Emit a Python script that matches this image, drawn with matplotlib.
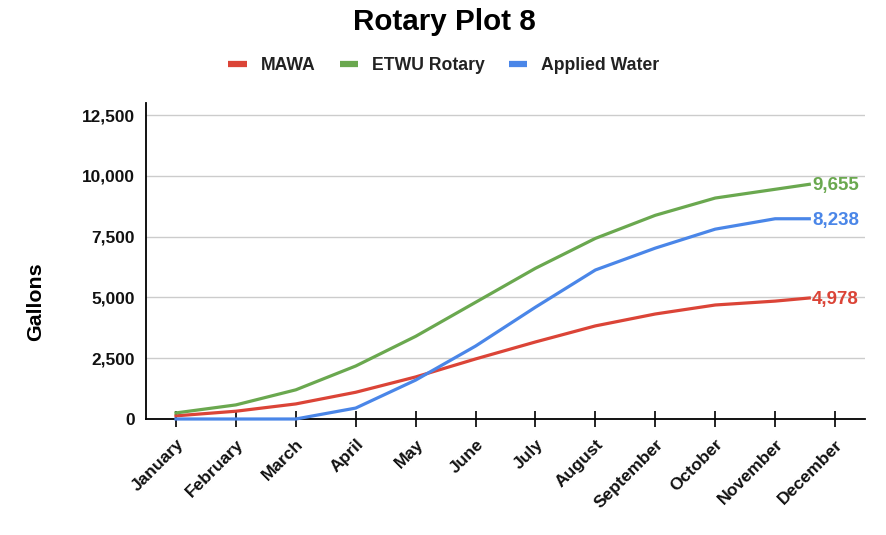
import matplotlib
matplotlib.use("Agg")
import matplotlib.pyplot as plt
from matplotlib.lines import Line2D

plt.rcParams['font.family'] = ['Liberation Sans', 'DejaVu Sans']
plt.rcParams['font.weight'] = 'bold'

months = ["January", "February", "March", "April", "May", "June", "July",
          "August", "September", "October", "November", "December"]
# positions of the plotted points along the month axis (last point sits before the December tick)
point_pos = [0, 1, 2, 3, 4, 5, 6, 7, 8, 9, 10, 10.57]

mawa = [130, 320, 620, 1100, 1730, 2470, 3170, 3830, 4320, 4690, 4850, 4978]
etwu = [250, 580, 1200, 2180, 3400, 4800, 6200, 7430, 8380, 9090, 9450, 9655]
applied = [0, 0, 0, 450, 1600, 3000, 4600, 6130, 7030, 7810, 8238, 8238]

series_names = ["MAWA", "ETWU Rotary", "Applied Water"]
colors = ["#DB4437", "#6AA84F", "#4A86E8"]
yticks = [0, 2500, 5000, 7500, 10000, 12500]

W, H = 886, 535
fig = plt.figure(figsize=(W / 100, H / 100), dpi=100)
ax = fig.add_axes([146 / W, 1 - 419 / H, (865 - 146) / W, (419 - 103) / H])

series = [mawa, etwu, applied]
for vals, col in zip(series, colors):
    ax.plot(point_pos, vals, color=col, lw=2.3, solid_joinstyle='round', zorder=3, clip_on=False)
    ax.annotate(f"{vals[-1]:,}", (point_pos[-1], vals[-1]), xytext=(2, -1),
                textcoords='offset points', ha='left', va='center',
                color=col, fontsize=13.5, fontweight='bold', zorder=4)

ax.set_xlim(-0.5, 11.5)
ax.set_ylim(0, 13000)
ax.set_yticks(yticks)
ax.set_yticklabels([f"{v:,}" for v in yticks], fontsize=12.4, fontweight='bold', color='#111111')
ax.set_xticks(range(len(months)))
ax.set_xticklabels(months, rotation=45, ha='right', rotation_mode='anchor',
                   fontsize=12.5, fontweight='bold', color='#111111')
ax.tick_params(axis='y', length=0, pad=8)
ax.tick_params(axis='x', direction='inout', length=11.5, width=1.2, pad=7, color='black')
ax.grid(axis='y', color='#cccccc', lw=1)
ax.set_axisbelow(True)
for s in ['top', 'right']:
    ax.spines[s].set_visible(False)
ax.spines['left'].set_linewidth(1.3)
ax.spines['bottom'].set_linewidth(1.3)
ax.spines['bottom'].set_zorder(2)

fig.text(444 / W, 1 - 22 / H, "Rotary Plot 8", ha='center', va='center',
         fontsize=21.3, fontweight='bold')
fig.text(36 / W, 1 - 302 / H, "Gallons", ha='center', va='center', rotation=90,
         fontsize=15.4, fontweight='bold')

handles = [Line2D([0], [0], color=c, lw=4.5, solid_capstyle='butt') for c in colors]
fig.legend(handles, series_names, loc='center', bbox_to_anchor=(444 / W, 1 - 66 / H),
           ncol=3, frameon=False, handlelength=1.05, handletextpad=0.8,
           columnspacing=1.35, prop={'weight': 'bold', 'size': 12.7}, labelcolor='#222222')

fig.savefig("out.png", dpi=100)
